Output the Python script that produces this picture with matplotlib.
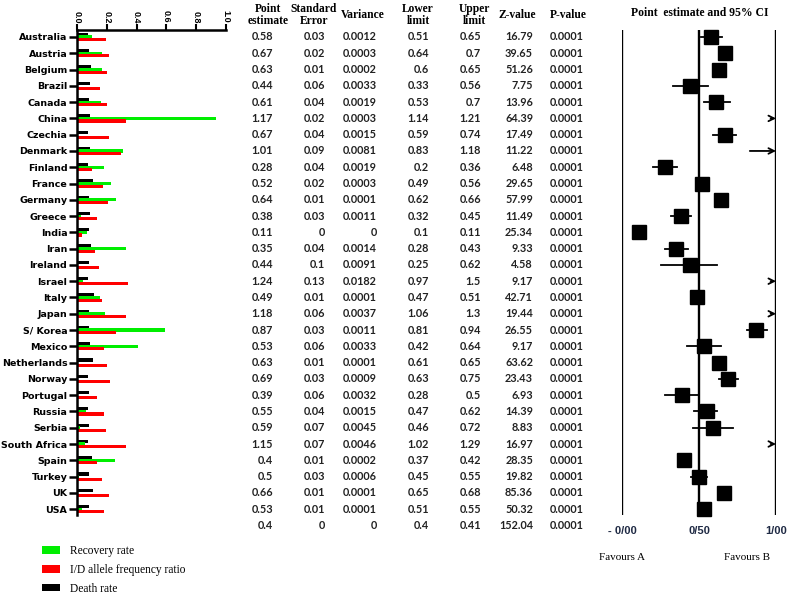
import numpy as np
import matplotlib
matplotlib.use("Agg")
from matplotlib import pyplot as plt

# Countries shown on the left bar chart (top to bottom)
countries = ["Australia", "Austria", "Belgium", "Brazil", "Canada", "China",
             "Czechia", "Denmark", "Finland", "France", "Germany", "Greece",
             "India", "Iran", "Ireland", "Israel", "Italy", "Japan", "S/ Korea",
             "Mexico", "Netherlands", "Norway", "Portugal", "Russia", "Serbia",
             "South Africa", "Spain", "Turkey", "UK", "USA"]

# Bar values
death_rate = [0.074, 0.079, 0.097, 0.088, 0.079, 0.088, 0.076, 0.085, 0.076, 0.110,
              0.079, 0.085, 0.083, 0.094, 0.083, 0.074, 0.115, 0.081, 0.079, 0.085,
              0.108, 0.076, 0.083, 0.074, 0.083, 0.074, 0.101, 0.081, 0.108, 0.083]
recovery_rate = [0.103, 0.169, 0.166, 0.0, 0.160, 0.933, 0.010, 0.308, 0.178, 0.229,
                 0.265, 0.027, 0.067, 0.330, 0.0, 0.038, 0.157, 0.189, 0.591, 0.411,
                 0.0, 0.0, 0.0, 0.058, 0.020, 0.054, 0.252, 0.013, 0.0, 0.036]
id_ratio = [0.193, 0.216, 0.204, 0.153, 0.202, 0.328, 0.216, 0.294, 0.099, 0.175,
            0.207, 0.135, 0.034, 0.124, 0.151, 0.342, 0.166, 0.330, 0.265, 0.178,
            0.204, 0.222, 0.137, 0.184, 0.196, 0.326, 0.137, 0.171, 0.213, 0.178]

# Meta-analysis table (30 countries + overall row)
point_est = [0.58, 0.67, 0.63, 0.44, 0.61, 1.17, 0.67, 1.01, 0.28, 0.52, 0.64, 0.38,
             0.11, 0.35, 0.44, 1.24, 0.49, 1.18, 0.87, 0.53, 0.63, 0.69, 0.39, 0.55,
             0.59, 1.15, 0.4, 0.5, 0.66, 0.53, 0.4]
std_error = [0.03, 0.02, 0.01, 0.06, 0.04, 0.02, 0.04, 0.09, 0.04, 0.02, 0.01, 0.03,
             0, 0.04, 0.1, 0.13, 0.01, 0.06, 0.03, 0.06, 0.01, 0.03, 0.06, 0.04,
             0.07, 0.07, 0.01, 0.03, 0.01, 0.01, 0]
variance = [0.0012, 0.0003, 0.0002, 0.0033, 0.0019, 0.0003, 0.0015, 0.0081, 0.0019,
            0.0003, 0.0001, 0.0011, 0, 0.0014, 0.0091, 0.0182, 0.0001, 0.0037, 0.0011,
            0.0033, 0.0001, 0.0009, 0.0032, 0.0015, 0.0045, 0.0046, 0.0002, 0.0006,
            0.0001, 0.0001, 0]
lower_limit = [0.51, 0.64, 0.6, 0.33, 0.53, 1.14, 0.59, 0.83, 0.2, 0.49, 0.62, 0.32,
               0.1, 0.28, 0.25, 0.97, 0.47, 1.06, 0.81, 0.42, 0.61, 0.63, 0.28, 0.47,
               0.46, 1.02, 0.37, 0.45, 0.65, 0.51, 0.4]
upper_limit = [0.65, 0.7, 0.65, 0.56, 0.7, 1.21, 0.74, 1.18, 0.36, 0.56, 0.66, 0.45,
               0.11, 0.43, 0.62, 1.5, 0.51, 1.3, 0.94, 0.64, 0.65, 0.75, 0.5, 0.62,
               0.72, 1.29, 0.42, 0.55, 0.68, 0.55, 0.41]
z_value = [16.79, 39.65, 51.26, 7.75, 13.96, 64.39, 17.49, 11.22, 6.48, 29.65, 57.99,
           11.49, 25.34, 9.33, 4.58, 9.17, 42.71, 19.44, 26.55, 9.17, 63.62, 23.43,
           6.93, 14.39, 8.83, 16.97, 28.35, 19.82, 85.36, 50.32, 152.04]
p_value = [0.0001] * 31

headers = ["Point\nestimate", "Standard\nError", "Variance", "Lower\nlimit",
           "Upper\nlimit", "Z-value", "P-value"]
forest_ticks = [0.0, 0.5, 1.0]
forest_ticklabels = ["- 0/00", "0/50", "1/00"]

W, H = 788, 594
fig = plt.figure(figsize=(W / 100, H / 100), dpi=100)

# pixel layout helpers
top_px, bot_px = 30, 515
row0_px, row_step = 37, 16.28
ylim = ((bot_px - row0_px) / row_step, (top_px - row0_px) / row_step)


def fig_axes(x0, x1):
    return fig.add_axes([x0 / W, 1 - bot_px / H, (x1 - x0) / W, (bot_px - top_px) / H])


######################################################
# Left: horizontal bar chart
ax = fig_axes(77, 226)
y = np.arange(len(countries))
off, h = 0.16, 0.19
b_death = ax.barh(y - off, death_rate, height=h, color="black")
b_rec = ax.barh(y, recovery_rate, height=h, color="#00ee00")
b_id = ax.barh(y + off, id_ratio, height=h, color="#ff0000")
ax.set_xlim(0, 1.0)
ax.set_ylim(*ylim)
ax.xaxis.tick_top()
ax.set_xticks(np.arange(0, 1.01, 0.2))
ax.set_xticklabels([f"{v:.1f}" for v in np.arange(0, 1.01, 0.2)], rotation=-90,
                   fontsize=6.5, fontweight="bold", family="Liberation Sans")
ax.set_yticks(y)
ax.set_yticklabels(countries, fontsize=6.8, fontweight="bold", family="DejaVu Sans")
ax.tick_params(axis="x", length=4, width=1.5, pad=1)
ax.tick_params(axis="y", length=6, width=1.8, pad=1)
for s in ["right", "bottom"]:
    ax.spines[s].set_visible(False)
for s in ["top", "left"]:
    ax.spines[s].set_linewidth(1.8)

######################################################
# Middle: table of values
tx = fig_axes(240, 600)
tx.set_xlim(240, 600)
tx.set_ylim(*ylim)
tx.axis("off")
col_right = [273, 325, 377, 429, 481, 533, 584]
col_center = [268, 314, 363, 418, 474, 517, 568]
columns = [point_est, std_error, variance, lower_limit, upper_limit, z_value, p_value]
for xr, vals in zip(col_right, columns):
    for i, v in enumerate(vals):
        tx.text(xr, i, f"{v:g}", ha="right", va="center", fontsize=7.8,
                fontweight="bold", family="Lato", color="#222222", clip_on=False)
for xc, lab in zip(col_center, headers):
    tx.text(xc, -1.35, lab, ha="center", va="center", fontsize=8.3, fontweight="bold",
            family="Liberation Serif", linespacing=1.05, clip_on=False)

######################################################
# Right: forest plot
fx = fig_axes(622, 776)
fx.set_xlim(0, 1)
fx.set_ylim(*ylim)
for xv in forest_ticks:
    fx.axvline(xv, color="black", lw=1.7, zorder=1)
for i in range(len(countries)):
    est, lo, hi = point_est[i], lower_limit[i], upper_limit[i]
    if est <= 1:
        fx.plot([max(lo, 0), min(hi, 1)], [i, i], color="black", lw=1.3, zorder=2,
                clip_on=False)
        fx.plot(est, i, marker="s", ms=10, color="black", zorder=3, clip_on=False)
    if hi > 1:
        start = min(max(lo, 0), 0.965)
        fx.annotate("", xy=(1, i), xytext=(start, i),
                    arrowprops=dict(arrowstyle="->", lw=1.3, color="black",
                                    shrinkA=0, shrinkB=0), annotation_clip=False)
fx.set_xticks(forest_ticks)
fx.set_xticklabels(forest_ticklabels, fontsize=8, fontweight="bold",
                   family="Liberation Sans", color="#1f2a44")
fx.tick_params(axis="x", length=0, pad=8)
fx.set_yticks([])
for s in fx.spines.values():
    s.set_visible(False)

fig.text(700 / W, 1 - 13 / H, "Point  estimate and 95% CI", ha="center", va="center",
         fontsize=8.4, fontweight="bold", family="Liberation Serif")
fig.text(622 / W, 1 - 558 / H, "Favours A", ha="center", va="center", fontsize=8,
         family="Liberation Serif")
fig.text(747 / W, 1 - 558 / H, "Favours B", ha="center", va="center", fontsize=8,
         family="Liberation Serif")

# legend at the bottom left
fig.legend([b_rec, b_id, b_death],
           ["Recovery rate", "I/D allele frequency ratio", "Death rate"],
           loc="upper left", bbox_to_anchor=(42 / W, 1 - 545 / H), frameon=False,
           prop={"family": "Liberation Serif", "size": 8.3}, handlelength=1.6,
           handleheight=0.6, handletextpad=0.8, labelspacing=0.6, borderaxespad=0,
           borderpad=0)

fig.savefig("out.png", dpi=100)
